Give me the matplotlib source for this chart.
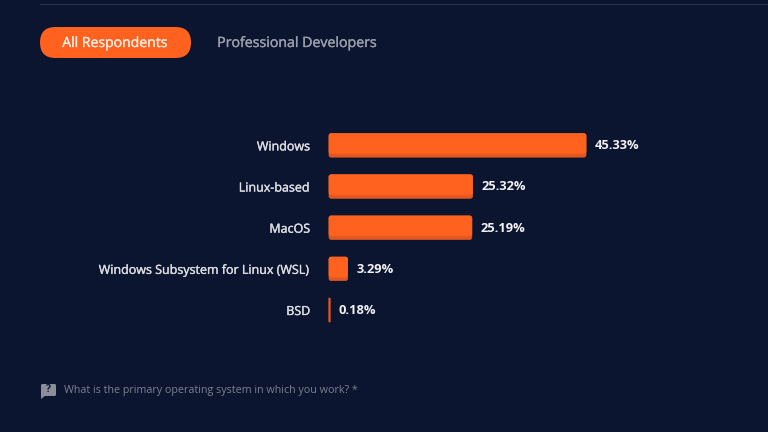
import matplotlib
matplotlib.use("Agg")
import matplotlib.pyplot as plt
import matplotlib.patheffects as pe
from matplotlib.patches import FancyBboxPatch, Polygon

# data
categories = ["Windows", "Linux-based", "MacOS", "Windows Subsystem for Linux (WSL)", "BSD"]
values = [45.33, 25.32, 25.19, 3.29, 0.18]
tabs = ["All Respondents", "Professional Developers"]
question = "What is the primary operating system in which you work? *"

bg = "#0c152f"
orange = "#ff611f"
dark_orange = "#e2571f"

plt.rcParams["font.family"] = ["Open Sans", "Noto Sans", "DejaVu Sans"]

W, H = 768, 432
fig = plt.figure(figsize=(W / 100, H / 100), dpi=100, facecolor=bg)

# overlay in pixel coords for the page bits around the chart
page = fig.add_axes([0, 0, 1, 1])
page.set_xlim(0, W)
page.set_ylim(H, 0)
page.axis("off")

page.plot([40, 768], [3.5, 3.5], color="#2a3148", lw=0.8)

# tabs
page.add_patch(FancyBboxPatch((40, 27), 151, 31, boxstyle="round,pad=0,rounding_size=15.5",
                              fc=orange, ec="none"))
page.text(115, 43.5, tabs[0], color="#ffe9dc", fontsize=10.1, ha="center", va="center",
          path_effects=[pe.withStroke(linewidth=0.25, foreground="#ffe9dc")])
page.text(297, 43.5, tabs[1], color="#9a9eac", fontsize=10.2, ha="center", va="center",
          path_effects=[pe.withStroke(linewidth=0.25, foreground="#9a9eac")])

# question icon and footer
page.add_patch(FancyBboxPatch((41, 384), 15, 12, boxstyle="round,pad=0,rounding_size=1.5",
                              fc="#8b8f9c", ec="none"))
page.add_patch(Polygon([[41, 394], [41, 399], [46, 395]], fc="#8b8f9c", ec="none"))
page.text(48.5, 390, "?", color=bg, fontsize=7.5, fontweight="bold", ha="center", va="center")
page.text(64, 390.5, question, color="#7b8090", fontsize=7.72, va="center")

# bars
x0, px_per_pct = 329, 5.67
step = 41.15
y_first = 145.4
ax = fig.add_axes([x0 / W, 1 - (y_first + 4.5 * step) / H, (W - x0) / W, 5 * step / H])
ax.patch.set_alpha(0)
ax.set_xlim(0, (W - x0) / px_per_pct)
ax.set_ylim(4.5, -0.5)
ypos = list(range(len(categories)))

bar_h = 23.5 / step
strip = 3.5 / step
aspect = (1 / step) / (1 / px_per_pct)
for y, v in zip(ypos, values):
    rs = min(2.2 / px_per_pct, v / 2)
    # BSD is a sliver, so it needs a wider edge to show at all
    ax.add_patch(FancyBboxPatch((0, y - bar_h / 2), v, bar_h,
                                boxstyle=f"round,pad=0,rounding_size={rs}",
                                mutation_aspect=aspect, fc=dark_orange,
                                ec=dark_orange, lw=0.5 if v > 1 else 0.9, clip_on=False))
    if v > 1:
        ax.add_patch(FancyBboxPatch((0, y - bar_h / 2), v, bar_h - strip,
                                    boxstyle=f"round,pad=0,rounding_size={rs}",
                                    mutation_aspect=aspect, fc=orange,
                                    ec=orange, lw=0.5, clip_on=False))

ax.set_yticks(ypos)
ax.set_yticklabels(categories, color="#dcdde2", fontsize=9.0,
                   path_effects=[pe.withStroke(linewidth=0.25, foreground="#dcdde2")])
ax.tick_params(axis="y", length=0, pad=13.5)
ax.set_xticks([])
for s in ax.spines.values():
    s.set_visible(False)

for y, v in zip(ypos, values):
    ax.annotate(f"{v:.2f}%", (v, y), xytext=(6.3, -0.3), textcoords="offset points",
                color="#f2f2f4", fontsize=9.3, fontweight="bold", va="center")

fig.savefig("out.png", dpi=100, facecolor=bg)
